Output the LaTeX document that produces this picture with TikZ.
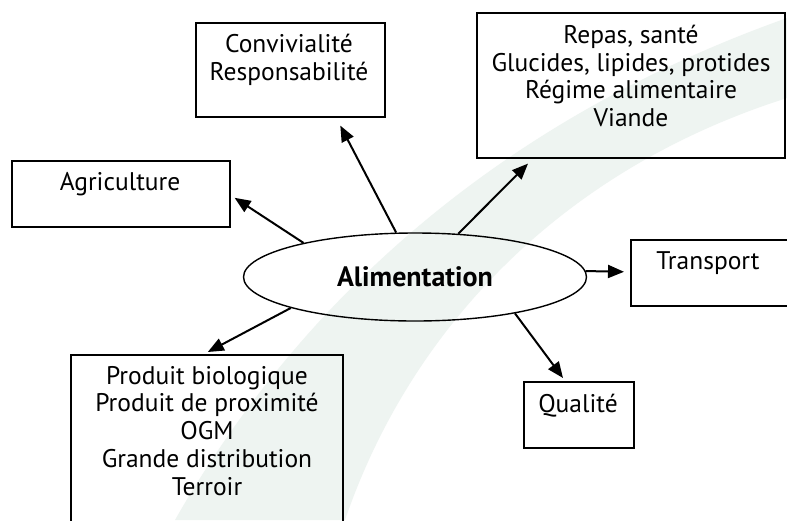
\documentclass[tikz,border=0pt]{standalone}
\usepackage{fontspec}
\setmainfont{PT Sans}
\usetikzlibrary{arrows.meta,shapes.geometric}
\definecolor{swoosh}{RGB}{238,244,241}

\tikzset{
  box/.style={draw, line width=1.6pt, anchor=north west, inner sep=0pt},
  boxtext/.style={anchor=north, align=center, inner sep=0pt,
    font=\fontsize{25.5}{27.7}\selectfont},
  arr/.style={-{Triangle[length=16pt,width=13pt]}, line width=2pt}
}

\begin{document}
\begin{tikzpicture}[x=1pt, y=-1pt]

% page and watermark
\fill[white] (0,0) rectangle (787,520);
\useasboundingbox (0,0) rectangle (787,520);
\fill[swoosh] (175,520) .. controls (300,300) and (500,120) .. (787,18)
  -- (787,98) .. controls (560,170) and (410,330) .. (345,520) -- cycle;

% boxes
\node[box, minimum width=189, minimum height=94] (conv) at (195,22) {};
\node[box, minimum width=308, minimum height=145] (repas) at (476,12) {};
\node[box, minimum width=218, minimum height=66] (agri) at (11,160) {};
\node[box, minimum width=165, minimum height=66] (trans) at (630,239) {};
\node[box, minimum width=110, minimum height=66] (qual) at (523,381) {};
\node[box, minimum width=272, minimum height=180] (prod) at (70,354) {};

\node[boxtext] (conv text) at (289,34) {Convivialité\\Responsabilité};
\node[boxtext] (repas text) at (631,25) {Repas, santé\\Glucides, lipides, protides\\Régime alimentaire\\Viande};
\node[boxtext] (agri text) at (120,172) {Agriculture};
\node[boxtext] (trans text) at (708,251) {Transport};
\node[boxtext] (qual text) at (578,394) {Qualité};
\node[boxtext] (prod text) at (207,366) {Produit biologique\\Produit de proximité\\OGM\\Grande distribution\\Terroir};

% centre
\node[ellipse, draw, line width=1.4pt,
  minimum width=343, minimum height=88, inner sep=0pt,
  font=\fontsize{28}{30}\selectfont\bfseries] (alim) at (415,277) {Alimentation};

% connectors
\draw[arr] (alim.163) -- ([shift={(4,4)}]agri.east);
\draw[arr] (alim.113) -- ([shift={(50,8)}]conv.south);
\draw[arr] (alim.45) -- ([shift={(52,5)}]repas.south west);
\draw[arr] (alim.2) -- ([shift={(-6,-1)}]trans.west);
\draw[arr] (alim.-20) -- ([shift={(40,-3)}]qual.north west);
\draw[arr] (alim.194) -- ([shift={(1,-2)}]prod.north);

\end{tikzpicture}
\end{document}
